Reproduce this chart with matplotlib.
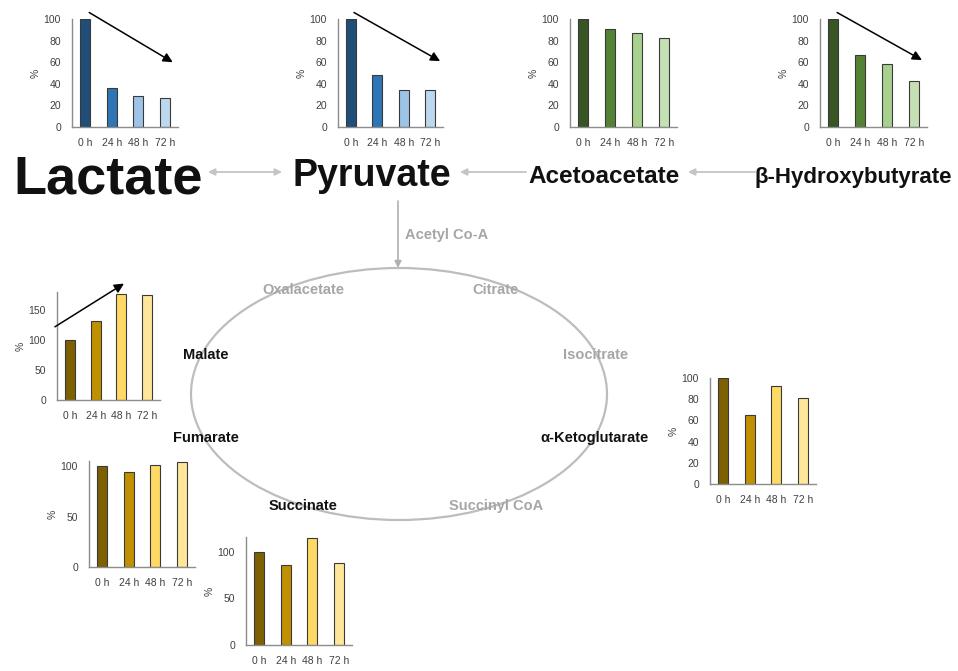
import numpy as np
import matplotlib.pyplot as plt
from matplotlib.patches import Ellipse

plt.rcParams['font.family'] = ['Liberation Sans', 'DejaVu Sans']

hours = ['0 h', '24 h', '48 h', '72 h']

# relative levels (% of 0 h)
lactate = [100, 36, 29, 27]
pyruvate = [100, 48, 34, 34]
acetoacetate = [100, 91, 87, 82]
hydroxybutyrate = [100, 67, 58, 43]
malate = [100, 132, 177, 175]
fumarate = [100, 94, 101, 104]
succinate = [100, 86, 115, 88]
ketoglutarate = [100, 65, 92, 81]

blues = ['#1f4e79', '#2e75b6', '#9dc3e6', '#bdd7ee']
greens = ['#375623', '#548235', '#a9d18e', '#c5e0b4']
golds = ['#7f6000', '#bf9000', '#ffd966', '#ffe699']

W, H = 958, 671
fig = plt.figure(figsize=(W / 100, H / 100), dpi=100)

# pixel-space canvas for the pathway
bg = fig.add_axes([0, 0, 1, 1])
bg.set_xlim(0, W)
bg.set_ylim(H, 0)
bg.axis('off')


def bar_panel(box, values, colors, ylim, yticks, trend=None):
    # box = left, top, right, bottom of the plotting area in pixels
    x0, y0, x1, y1 = box
    ax = fig.add_axes([x0 / W, 1 - y1 / H, (x1 - x0) / W, (y1 - y0) / H])
    ax.bar(range(len(values)), values, width=0.38, color=colors,
           edgecolor='#3a3a3a', linewidth=0.8)
    ax.set_xlim(-0.5, 3.5)
    ax.set_ylim(*ylim)
    ax.set_xticks(range(len(hours)))
    ax.set_xticklabels(hours)
    ax.set_yticks(yticks)
    ax.tick_params(axis='x', length=0, labelsize=7.5, colors='#404040', pad=8)
    ax.tick_params(axis='y', length=0, labelsize=7.5, colors='#404040', pad=8)
    for s in ['top', 'right']:
        ax.spines[s].set_visible(False)
    for s in ['left', 'bottom']:
        ax.spines[s].set_color('#8c8c8c')
        ax.spines[s].set_linewidth(1.0)
    ax.set_ylabel('%', fontsize=7.5, color='#404040', labelpad=2)
    ax.patch.set_alpha(0)
    if trend:
        ax.annotate('', xy=trend[1], xytext=trend[0], annotation_clip=False,
                    arrowprops=dict(arrowstyle='-|>', color='black', lw=1.1,
                                    mutation_scale=14, shrinkA=0, shrinkB=0))
    return ax


top_ticks = [0, 20, 40, 60, 80, 100]
bar_panel((72, 19, 178, 127), lactate, blues, (0, 100), top_ticks,
          trend=((0.15, 106), (3.3, 60)))
bar_panel((338, 19, 443, 127), pyruvate, blues, (0, 100), top_ticks,
          trend=((0.11, 106), (3.39, 61)))
bar_panel((570, 19, 677, 127), acetoacetate, greens, (0, 100), top_ticks)
bar_panel((820, 19, 927, 127), hydroxybutyrate, greens, (0, 100), top_ticks,
          trend=((0.14, 106), (3.31, 62)))

bar_panel((57, 292, 160, 400), malate, golds, (0, 180), [0, 50, 100, 150],
          trend=((-0.58, 122), (2.1, 194)))
bar_panel((89, 461, 195, 567), fumarate, golds, (0, 105), [0, 50, 100])
bar_panel((246, 537, 352, 645), succinate, golds, (0, 116), [0, 50, 100])
bar_panel((710, 378, 816, 484), ketoglutarate, golds, (0, 100), top_ticks)

# main metabolites
black = '#111111'
bg.text(108, 194, 'Lactate', fontsize=39, fontweight='bold', color=black,
        ha='center', va='baseline')
bg.text(372, 186, 'Pyruvate', fontsize=27, fontweight='bold', color=black,
        ha='center', va='baseline')
bg.text(604, 183, 'Acetoacetate', fontsize=17.5, fontweight='bold', color=black,
        ha='center', va='baseline')
bg.text(853, 183, 'β-Hydroxybutyrate', fontsize=16, fontweight='bold', color=black,
        ha='center', va='baseline')

grey_arrow = dict(arrowstyle='-|>', color='#c4c4c4', lw=1.3, mutation_scale=10,
                  shrinkA=0, shrinkB=0)
bg.annotate('', xy=(208, 172), xytext=(282, 172),
            arrowprops=dict(grey_arrow, arrowstyle='<|-|>'))
bg.annotate('', xy=(460, 172), xytext=(526, 172), arrowprops=grey_arrow)
bg.annotate('', xy=(688, 172), xytext=(755, 172), arrowprops=grey_arrow)
bg.annotate('', xy=(398, 268), xytext=(398, 201),
            arrowprops=dict(grey_arrow, color='#b0b0b0', lw=1.2))
bg.text(405, 235, 'Acetyl Co-A', fontsize=10.5, fontweight='bold',
        color='#a6a6a6', ha='left', va='center')

# TCA cycle
bg.add_patch(Ellipse((399, 394), 416, 252, fill=False, edgecolor='#bdbdbd', lw=1.6))

grey = '#a6a6a6'
cycle_labels = [
    ('Oxalacetate', 303, 290, grey),
    ('Citrate', 496, 290, grey),
    ('Isocitrate', 596, 355, grey),
    ('Malate', 206, 355, black),
    ('Fumarate', 206, 438, black),
    ('α-Ketoglutarate', 595, 438, black),
    ('Succinate', 303, 506, black),
    ('Succinyl CoA', 496, 506, grey),
]
for name, x, y, c in cycle_labels:
    bg.text(x, y, name, fontsize=10.5, fontweight='bold', color=c,
            ha='center', va='center')

fig.savefig('out.png', dpi=100)
